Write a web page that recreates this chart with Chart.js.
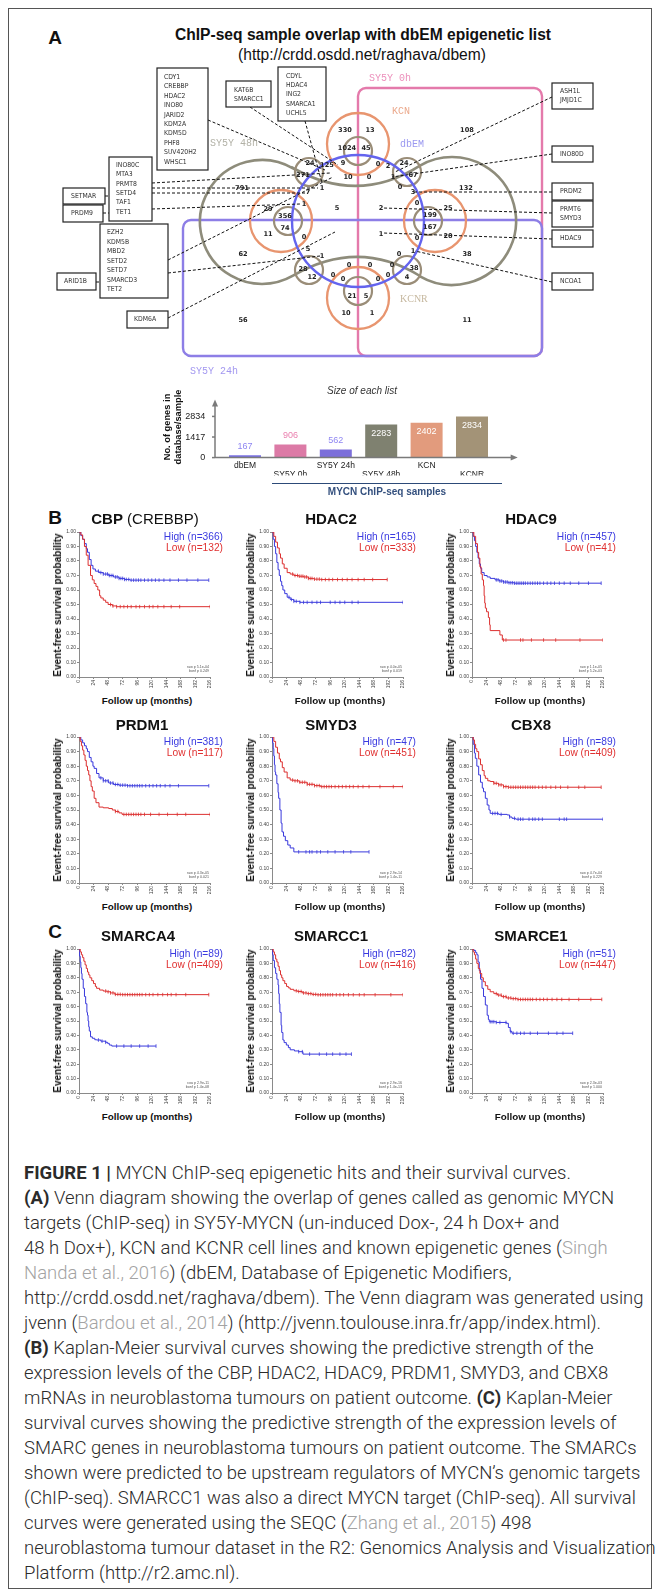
<!DOCTYPE html>
<html lang="en">
<head>
<meta charset="UTF-8">
<title>MYCN ChIP-seq epigenetic hits and their survival curves</title>
<script src="https://cdn.jsdelivr.net/npm/chart.js"></script>
<style>
  html, body { margin: 0; padding: 0; background: #fff; }
  body { position: relative; width: 659px; height: 1595px; overflow: hidden;
         font-family: "Liberation Sans", Arial, sans-serif; color: #111; }
  .frame { position: absolute; left: 8px; top: 8px; width: 644px; height: 1581px;
           border: 1.5px solid #555; box-sizing: border-box; }
  .t { position: absolute; white-space: nowrap; line-height: 1; }
  canvas { position: absolute; }
  .cap { position: absolute; left: 24px; white-space: nowrap; line-height: 1;
         font-family: Roboto, "Open Sans", sans-serif; font-weight: 300; color: #2b2b2b; }
  .cap b { font-weight: 700; }
  .ref { color: #a3a3a3; }
</style>
</head>
<body>
<div class="frame"></div>
<script>
// ---------- data ----------
const barLabels = ['dbEM', 'SY5Y 0h', 'SY5Y 24h', 'SY5Y 48h', 'KCN', 'KCNR'];
const barValues = [167, 906, 562, 2283, 2402, 2834];
const barTicks = [0, 1417, 2834];

const vennSetNames = ['SY5Y 0h', 'SY5Y 24h', 'SY5Y 48h', 'KCN', 'dbEM', 'KCNR'];
const vennCounts = [330, 13, 1024, 45, 108, 24, 125, 9, 10, 0, 0, 2, 24, 1, 67, 0, 3, 132, 0, 2,
  25, 199, 167, 1, 20, 0, 0, 1, 38, 0, 0, 0, 0, 0, 0, 0, 38, 4, 21, 5,
  10, 1, 11, 11, 0, 62, 5, 1, 28, 12, 56, 791, 271, 7, 1, 1, 29, 356, 74, 5];

const geneLists = [
  ['CDY1', 'CREBBP', 'HDAC2', 'INO80', 'JARID2', 'KDM2A', 'KDM5D', 'PHF8', 'SUV420H2', 'WHSC1'],
  ['KAT6B', 'SMARCC1'],
  ['CDYL', 'HDAC4', 'ING2', 'SMARCA1', 'UCHL5'],
  ['INO80C', 'MTA3', 'PRMT8', 'SETD4', 'TAF1', 'TET1'],
  ['SETMAR'],
  ['PRDM9'],
  ['EZH2', 'KDM5B', 'MBD2', 'SETD2', 'SETD7', 'SMARCD3', 'TET2'],
  ['ARID1B'],
  ['KDM6A'],
  ['ASH1L', 'JMJD1C'],
  ['INO80D'],
  ['PRDM2'],
  ['PRMT6', 'SMYD3'],
  ['HDAC9'],
  ['NCOA1']
];

const kmGenes = ['CBP', 'HDAC2', 'HDAC9', 'PRDM1', 'SMYD3', 'CBX8', 'SMARCA4', 'SMARCC1', 'SMARCE1'];
const kmAlias = ['CREBBP', '', '', '', '', '', '', '', ''];
const highN = [366, 165, 457, 381, 47, 89, 89, 82, 51];
const lowN = [132, 333, 41, 117, 451, 409, 409, 416, 447];
const rawP = ['5.1e-04', '4.0e-05', '1.1e-05', '4.3e-05', '2.9e-14', '4.7e-04', '2.9e-11', '2.9e-16', '2.3e-03'];
const bonfP = ['0.249', '0.019', '5.2e-03', '0.021', '1.4e-11', '0.229', '1.4e-08', '1.4e-13', '1.000'];
const monthTicks = [0, 24, 48, 72, 96, 120, 144, 168, 192, 216];
const probTicks = [0, 0.1, 0.2, 0.3, 0.4, 0.5, 0.6, 0.7, 0.8, 0.9, 1.0];

// survival curves: [month, probability]
const cbpHigh = [[0,1],[3,0.975],[6,0.95],[9,0.92],[12,0.885],[14,0.86],[17,0.81],[20,0.77],[23,0.745],[27,0.73],[33,0.72],[40,0.71],[49,0.70],[57,0.69],[66,0.68],[75,0.673],[84,0.668],[214,0.668]];
const cbpLow = [[0,1],[3,0.98],[6,0.95],[9,0.9],[12,0.84],[15,0.77],[19,0.70],[22,0.67],[25,0.645],[28,0.625],[31,0.6],[34,0.56],[36,0.545],[40,0.53],[44,0.515],[48,0.5],[55,0.49],[62,0.485],[216,0.485]];
const hdac2High = [[0,1],[2,0.95],[4,0.9],[6,0.85],[8,0.79],[10,0.74],[12,0.70],[14,0.66],[16,0.63],[18,0.60],[21,0.575],[25,0.55],[30,0.535],[36,0.522],[46,0.515],[216,0.515]];
const hdac2Low = [[0,1],[3,0.97],[6,0.93],[9,0.89],[12,0.85],[14,0.82],[17,0.78],[20,0.75],[25,0.72],[30,0.71],[36,0.70],[44,0.695],[52,0.69],[60,0.68],[69,0.675],[80,0.672],[190,0.672]];
const hdac9High = [[0,1],[2,0.97],[4,0.94],[6,0.9],[8,0.86],[10,0.82],[12,0.78],[14,0.75],[16,0.72],[20,0.70],[25,0.69],[30,0.68],[38,0.67],[45,0.662],[52,0.655],[60,0.65],[70,0.647],[213,0.647]];
const hdac9Low = [[0,1],[3,0.97],[6,0.92],[9,0.86],[11,0.82],[13,0.76],[15,0.71],[17,0.67],[19,0.63],[20,0.56],[21,0.51],[22,0.475],[24,0.45],[27,0.41],[29,0.36],[30,0.32],[46,0.29],[50,0.255],[216,0.255]];
const prdm1High = [[0,1],[3,0.98],[6,0.96],[9,0.94],[12,0.92],[14,0.90],[17,0.86],[20,0.83],[23,0.80],[25,0.785],[29,0.75],[33,0.72],[40,0.70],[49,0.685],[57,0.675],[66,0.67],[80,0.666],[214,0.666]];
const prdm1Low = [[0,1],[2,0.97],[4,0.94],[6,0.91],[8,0.877],[10,0.84],[12,0.8],[14,0.77],[16,0.74],[18,0.70],[20,0.66],[22,0.63],[25,0.58],[28,0.55],[33,0.52],[40,0.515],[49,0.51],[55,0.5],[60,0.49],[66,0.48],[71,0.47],[216,0.47]];
const smyd3High = [[0,1],[1,0.96],[2,0.92],[3,0.87],[4,0.81],[5,0.76],[6,0.74],[8,0.68],[10,0.62],[11,0.58],[13,0.5],[15,0.41],[16.5,0.35],[19,0.32],[22,0.29],[26,0.26],[30,0.24],[36,0.213],[160,0.213]];
const smyd3Low = [[0,1],[3,0.97],[6,0.93],[9,0.89],[12,0.85],[14,0.83],[17,0.79],[20,0.76],[25,0.72],[30,0.705],[36,0.70],[45,0.69],[58,0.676],[70,0.667],[80,0.66],[216,0.66]];
const cbx8High = [[0,1],[2,0.95],[4,0.89],[5.5,0.854],[8,0.80],[11,0.74],[14,0.69],[17,0.65],[19,0.625],[22,0.58],[25,0.534],[28,0.5],[30,0.477],[44,0.47],[58,0.466],[62,0.452],[66,0.443],[72,0.437],[216,0.437]];
const cbx8Low = [[0,1],[2,0.98],[4,0.95],[6,0.92],[8,0.90],[11,0.85],[14,0.81],[17,0.77],[20,0.735],[22,0.717],[26,0.70],[30,0.695],[36,0.683],[44,0.672],[52,0.66],[60,0.656],[213,0.656]];
const smarca4High = [[0,1],[1,0.95],[2,0.91],[3,0.87],[4,0.83],[5,0.79],[7,0.727],[9,0.67],[11,0.62],[13,0.56],[14,0.54],[15,0.5],[16,0.46],[17,0.43],[19,0.39],[22,0.38],[26,0.37],[29,0.368],[36,0.36],[44,0.352],[47,0.345],[50,0.333],[54,0.326],[127,0.326]];
const smarca4Low = [[0,1],[2,0.98],[4,0.96],[6,0.94],[8,0.915],[10,0.89],[12,0.865],[14,0.84],[16,0.82],[18,0.80],[21,0.78],[24,0.76],[27,0.74],[29,0.727],[34,0.715],[40,0.708],[46,0.703],[52,0.695],[59,0.685],[70,0.683],[214,0.683]];
const smarcc1High = [[0,1],[1,0.96],[2,0.92],[4,0.87],[6,0.83],[8,0.79],[10,0.75],[11,0.69],[12,0.62],[13,0.56],[15,0.47],[16,0.42],[18,0.368],[20,0.35],[23.6,0.333],[27,0.315],[30,0.30],[37,0.292],[44,0.287],[51,0.27],[131,0.27]];
const smarcc1Low = [[0,1],[2,0.98],[4,0.96],[6,0.93],[8,0.91],[10,0.88],[12,0.85],[14,0.82],[16,0.8],[18,0.78],[21,0.76],[24,0.74],[27,0.73],[30,0.72],[36,0.71],[42,0.705],[50,0.695],[58,0.69],[66,0.685],[74,0.682],[216,0.682]];
const smarce1High = [[0,1],[3,0.99],[6,0.975],[8,0.96],[10,0.91],[12,0.85],[14,0.79],[16.5,0.727],[19,0.67],[22,0.611],[25,0.54],[27,0.51],[28.5,0.495],[40,0.49],[57,0.484],[60,0.455],[63,0.426],[66,0.415],[166,0.415]];
const smarce1Low = [[0,1],[2,0.98],[4,0.96],[6,0.93],[8,0.9],[10.4,0.865],[13,0.83],[16,0.8],[18.7,0.773],[22,0.745],[26,0.72],[30,0.703],[36,0.69],[42,0.68],[49,0.669],[57,0.66],[65,0.655],[75,0.65],[214,0.65]];

// censored cases (months)
const cbpHighCens = [32,36,40,44,47,50,53,56,60,63,66,69,72,75,78,82,86,90,94,98,102,108,114,120,126,132,140,150,164,178,196,214];
const cbpLowCens = [52,56,62,68,74,80,86,94,100,108,116,122,130,140,152,166,216];
const hdac2HighCens = [28,32,36,40,46,52,58,66,74,80,96,104,112,120,132,142,216];
const hdac2LowCens = [34,38,42,45,48,51,54,57,60,63,66,70,74,78,82,88,94,100,108,116,124,132,142,152,166,190];
const hdac9HighCens = [40,43,46,49,52,55,58,61,64,67,70,73,76,79,82,85,88,92,96,100,104,108,112,118,124,130,136,144,152,162,176,192,213];
const hdac9LowCens = [52,56,80,84,98,118,138,178,216];
const prdm1HighCens = [36,40,44,48,52,56,60,64,68,72,76,80,84,88,92,96,100,104,110,116,122,128,134,142,150,164,214];
const prdm1LowCens = [60,64,74,78,82,86,90,94,98,102,108,118,132,146,162,176,216];
const smyd3HighCens = [44,56,62,66,74,80,92,104,118,130,160];
const smyd3LowCens = [34,38,42,46,50,54,58,62,66,70,74,78,82,86,90,94,98,104,110,116,122,128,134,142,150,160,178,200,216];
const cbx8HighCens = [34,38,42,48,62,70,76,80,84,94,100,104,110,116,144,152,156,216];
const cbx8LowCens = [36,40,44,48,52,56,60,64,68,72,76,80,84,88,92,96,100,104,110,116,122,130,138,146,158,176,186,213];
const smarca4HighCens = [32,38,44,62,74,86,100,114,127];
const smarca4LowCens = [44,48,52,56,60,64,68,72,76,80,84,88,92,96,100,104,110,116,122,130,138,146,152,160,176,214];
const smarcc1HighCens = [44,50,62,78,90,100,112,122,131];
const smarcc1LowCens = [40,44,48,52,56,60,64,68,72,76,80,84,88,92,96,100,106,112,118,126,134,144,152,170,196,216];
const smarce1HighCens = [30,33,36,40,46,56,64,68,74,80,86,96,108,126,140,150,166];
const smarce1LowCens = [40,44,48,52,56,60,64,68,72,76,80,84,88,92,96,100,106,112,118,124,132,140,148,160,176,196,214];

const highCurves = [cbpHigh, hdac2High, hdac9High, prdm1High, smyd3High, cbx8High, smarca4High, smarcc1High, smarce1High];
const lowCurves = [cbpLow, hdac2Low, hdac9Low, prdm1Low, smyd3Low, cbx8Low, smarca4Low, smarcc1Low, smarce1Low];
const highCens = [cbpHighCens, hdac2HighCens, hdac9HighCens, prdm1HighCens, smyd3HighCens, cbx8HighCens, smarca4HighCens, smarcc1HighCens, smarce1HighCens];
const lowCens = [cbpLowCens, hdac2LowCens, hdac9LowCens, prdm1LowCens, smyd3LowCens, cbx8LowCens, smarca4LowCens, smarcc1LowCens, smarce1LowCens];

// ---------- layout (page pixels) ----------
const vennCountPos = [[345,130],[370,130],[347,148],[366,148],[467,130],[310,163],[327,165],[343,163],[348,177],[369,177],
  [378,164],[388,166],[404,163],[393,177],[413,175],[400,187],[413,192],[466,188],[417,203],[381,208],
  [448,208],[430,215],[430,227],[381,234],[448,236],[417,238],[399,254],[413,251],[467,254],[349,265],
  [370,265],[392,265],[333,275],[343,279],[378,279],[388,275],[414,268],[407,277],[352,296],[366,296],
  [346,313],[372,313],[467,320],[268,234],[304,237],[243,254],[308,249],[322,256],[303,269],[312,277],
  [243,320],[242,188],[303,175],[308,192],[322,188],[304,204],[268,209],[285,216],[285,228],[337,208]];
// box: x0, y0, x1, y1, text x, first line y, line step
const geneBoxPos = [
  [157,68,208,170,164,77,9.45], [226,81,271,107,234,90,9.4], [278,67,326,121,286,76,9.3],
  [109,157,152,221,116,165,9.4], [63,188,105,204,71,196,0], [63,205,103,222,71,213.5,0],
  [100,224,168,298,107,232.7,9.43], [57,273,96,290,64,281.5,0], [127,311,168,328,134,319.5,0],
  [552,83,593,109,560,91,9.3], [552,146,593,162,560,154,0], [552,183,593,200,560,191.5,0],
  [552,201,593,227,560,209,9.6], [552,230,593,247,560,238.5,0], [552,273,593,290,560,281.5,0]];
const leaderLines = [
  [208,120,325,170], [250,107,338,165], [305,121,322,183],
  [152,183,330,173], [152,188,318,188], [152,193,307,193], [152,209,300,204],
  [105,196,109,196], [103,213,109,213],
  [168,260,333,177], [168,273,320,256], [96,282,100,282], [168,318,335,232],
  [552,97,395,172], [552,154,392,177], [552,192,413,192], [552,213,383,208],
  [552,239,383,233], [552,282,415,251]];
const vennLabelPos = [[369,78,'#ec8fbb','mono'], [190,371,'#a398f0','mono'], [210,143,'#b2b1a6','mono'],
  [392,111,'#eba98c','mono'], [400,144,'#9a98f0','mono'], [400,299,'#c6b89f','serif']];
const barColors = ['#7a70e4', '#dc7aa6', '#7c6fda', '#7f8170', '#e29b7d', '#a39377'];
const barValueColors = ['#8f86f2', '#ea7fae', '#8f86f2', '#fff', '#fff', '#fff'];

const kmCols = [79, 272, 472];
const kmRows = [{top: 532, bottom: 677, title: 518}, {top: 737, bottom: 883, title: 724}, {top: 949, bottom: 1093, title: 935}];
const kmTitleX = [[145, 331, 531], [142, 331, 531], [138, 331, 531]];
const kmWidth = 131;
const BLUE = '#3838dc', RED = '#dc2f2f';

Chart.defaults.font.family = '"Liberation Sans", Arial, sans-serif';
Chart.defaults.color = '#333';

function put(html, x, y, css, align, rot) {
  const d = document.createElement('div');
  d.className = 't';
  d.innerHTML = html;
  d.style.cssText += css;
  d.style.left = x + 'px';
  d.style.top = y + 'px';
  const tx = align === 'l' ? '0' : align === 'r' ? '-100%' : '-50%';
  d.style.transform = 'translate(' + tx + ',-50%)' + (rot ? ' rotate(' + rot + 'deg)' : '');
  document.body.appendChild(d);
  return d;
}

function addCanvas(x, y, w, h) {
  const cv = document.createElement('canvas');
  cv.width = w; cv.height = h;
  cv.style.left = x + 'px'; cv.style.top = y + 'px';
  cv.style.width = w + 'px'; cv.style.height = h + 'px';
  document.body.appendChild(cv);
  return cv;
}

// ---------- panel A: titles ----------
put('A', 55, 37, 'font-size:19px;font-weight:bold;');
put('ChIP-seq sample overlap with dbEM epigenetic list', 363, 35, 'font-size:15.6px;font-weight:bold;');
put('(http://crdd.osdd.net/raghava/dbem)', 362, 55, 'font-size:15.6px;');

// ---------- panel A: Venn diagram ----------
function rrect(ctx, x, y, w, h, r) {
  ctx.beginPath();
  ctx.moveTo(x + r, y);
  ctx.lineTo(x + w - r, y); ctx.arcTo(x + w, y, x + w, y + r, r);
  ctx.lineTo(x + w, y + h - r); ctx.arcTo(x + w, y + h, x + w - r, y + h, r);
  ctx.lineTo(x + r, y + h); ctx.arcTo(x, y + h, x, y + h - r, r);
  ctx.lineTo(x, y + r); ctx.arcTo(x, y, x + r, y, r);
  ctx.closePath();
}

const vennShapes = {
  id: 'vennShapes',
  beforeDatasetsDraw(chart) {
    const ctx = chart.ctx, sx = chart.scales.x, sy = chart.scales.y;
    const X = v => sx.getPixelForValue(v), Y = v => sy.getPixelForValue(v);
    const L = r => sx.getPixelForValue(r) - sx.getPixelForValue(0);
    ctx.save();
    ctx.lineWidth = 2.4;
    // SY5Y 0h (right half) and SY5Y 24h (bottom half)
    ctx.strokeStyle = '#e47aab';
    rrect(ctx, X(358), Y(88), L(184), L(268), 8); ctx.stroke();
    ctx.strokeStyle = '#8d7ee6';
    rrect(ctx, X(183), Y(220), L(359), L(136), 8); ctx.stroke();
    // SY5Y 48h two-lobed curve
    ctx.strokeStyle = '#8e8c7b';
    ctx.lineWidth = 2.6;
    ctx.beginPath();
    ctx.arc(X(262), Y(222), L(62), -Math.PI / 3, Math.PI / 3, true);
    ctx.quadraticCurveTo(X(358), Y(238), X(420), Y(276));
    ctx.arc(X(452), Y(221), L(64), 2 * Math.PI / 3, -2 * Math.PI / 3, true);
    ctx.quadraticCurveTo(X(358), Y(205), X(293), Y(168));
    ctx.closePath();
    ctx.stroke();
    // KCN lobes
    ctx.strokeStyle = '#e8956f';
    ctx.lineWidth = 2.3;
    [[358,144],[435,221],[358,298],[281,221]].forEach(c => {
      ctx.beginPath(); ctx.arc(X(c[0]), Y(c[1]), L(31), 0, 2 * Math.PI); ctx.stroke();
    });
    // KCNR small lobes
    ctx.strokeStyle = '#9a8d78';
    ctx.lineWidth = 2.2;
    [[358,151],[407,172],[428,221],[407,270],[358,291],[309,270],[288,221],[309,172]].forEach(c => {
      ctx.beginPath(); ctx.arc(X(c[0]), Y(c[1]), L(14), 0, 2 * Math.PI); ctx.stroke();
    });
    // dbEM circle
    ctx.strokeStyle = '#6464ee';
    ctx.lineWidth = 2.4;
    ctx.beginPath(); ctx.arc(X(358), Y(221), L(66), 0, 2 * Math.PI); ctx.stroke();
    ctx.restore();
  },
  afterDatasetsDraw(chart) {
    const ctx = chart.ctx, sx = chart.scales.x, sy = chart.scales.y;
    const X = v => sx.getPixelForValue(v), Y = v => sy.getPixelForValue(v);
    ctx.save();
    // leader lines
    ctx.strokeStyle = '#111';
    ctx.lineWidth = 1;
    ctx.setLineDash([3, 2]);
    leaderLines.forEach(l => {
      ctx.beginPath(); ctx.moveTo(X(l[0]), Y(l[1])); ctx.lineTo(X(l[2]), Y(l[3])); ctx.stroke();
    });
    ctx.setLineDash([]);
    // gene boxes
    ctx.font = '6.8px "DejaVu Sans Condensed", "Liberation Sans", sans-serif';
    ctx.textBaseline = 'middle';
    ctx.textAlign = 'left';
    geneBoxPos.forEach((b, i) => {
      ctx.fillStyle = '#fff';
      ctx.fillRect(X(b[0]), Y(b[1]), X(b[2]) - X(b[0]), Y(b[3]) - Y(b[1]));
      ctx.strokeStyle = '#222';
      ctx.lineWidth = 1.2;
      ctx.strokeRect(X(b[0]), Y(b[1]), X(b[2]) - X(b[0]), Y(b[3]) - Y(b[1]));
      ctx.fillStyle = '#333';
      geneLists[i].forEach((g, k) => ctx.fillText(g, X(b[4]), Y(b[5] + k * b[6])));
    });
    // region counts (dataset points)
    const pts = chart.getDatasetMeta(0).data;
    ctx.font = 'bold 6.6px "DejaVu Sans", sans-serif';
    ctx.textAlign = 'center';
    ctx.fillStyle = '#222';
    pts.forEach((p, i) => ctx.fillText(String(vennCounts[i]), p.x, p.y));
    // set names
    ctx.textAlign = 'left';
    vennSetNames.forEach((n, i) => {
      const lp = vennLabelPos[i];
      ctx.font = lp[3] === 'mono' ? '10px "Liberation Mono", monospace' : '10px "Liberation Serif", serif';
      ctx.fillStyle = lp[2];
      ctx.fillText(n, X(lp[0]), Y(lp[1]));
    });
    ctx.restore();
  }
};

const vennCanvas = addCanvas(0, 60, 659, 330);
new Chart(vennCanvas, {
  type: 'scatter',
  data: {
    datasets: [{
      data: vennCounts.map((v, i) => ({x: vennCountPos[i][0], y: vennCountPos[i][1]})),
      pointRadius: 0
    }]
  },
  options: {
    responsive: false, animation: false, devicePixelRatio: 1,
    layout: {padding: 0},
    plugins: {legend: {display: false}, tooltip: {enabled: false}},
    scales: {
      x: {type: 'linear', min: 0, max: 659, display: false},
      y: {type: 'linear', min: 60, max: 390, reverse: true, display: false}
    }
  },
  plugins: [vennShapes]
});

// ---------- panel A: bar chart ----------
const barDeco = {
  id: 'barDeco',
  afterDatasetsDraw(chart) {
    const ctx = chart.ctx, a = chart.chartArea, ys = chart.scales.y;
    const ax = a.left - 7.3, y0 = ys.getPixelForValue(0);
    ctx.save();
    ctx.strokeStyle = '#7a7a7a'; ctx.fillStyle = '#7a7a7a'; ctx.lineWidth = 1.5;
    ctx.beginPath(); ctx.moveTo(ax, y0); ctx.lineTo(ax, a.top + 2); ctx.stroke();
    ctx.beginPath(); ctx.moveTo(ax, a.top - 3); ctx.lineTo(ax - 3, a.top + 4); ctx.lineTo(ax + 3, a.top + 4); ctx.fill();
    ctx.beginPath(); ctx.moveTo(ax, y0); ctx.lineTo(a.right + 19, y0); ctx.stroke();
    ctx.beginPath(); ctx.moveTo(a.right + 23, y0); ctx.lineTo(a.right + 16, y0 - 3); ctx.lineTo(a.right + 16, y0 + 3); ctx.fill();
    barTicks.forEach(t => {
      const ty = ys.getPixelForValue(t);
      ctx.beginPath(); ctx.moveTo(ax - 3, ty); ctx.lineTo(ax, ty); ctx.stroke();
    });
    ctx.font = '9px "Liberation Sans", Arial, sans-serif';
    ctx.textAlign = 'center'; ctx.textBaseline = 'middle';
    chart.getDatasetMeta(0).data.forEach((bar, i) => {
      ctx.fillStyle = barValueColors[i];
      const inside = i >= 3;
      ctx.fillText(String(barValues[i]), bar.x, inside ? bar.y + 9 : bar.y - 9);
    });
    ctx.restore();
  }
};

const barCanvas = addCanvas(150, 380, 380, 100);
new Chart(barCanvas, {
  type: 'bar',
  data: {
    labels: barLabels.map((l, i) => i % 2 === 0 ? [l] : ['', l]),
    datasets: [{data: barValues, backgroundColor: barColors, borderWidth: 0,
                barPercentage: 0.705, categoryPercentage: 1}]
  },
  options: {
    responsive: false, animation: false, devicePixelRatio: 1,
    layout: {padding: {left: 0, right: 35.3, top: 15, bottom: 0}},
    plugins: {legend: {display: false}, tooltip: {enabled: false}},
    scales: {
      x: {
        grid: {display: false, drawTicks: false}, border: {display: false},
        ticks: {font: {size: 8.5, lineHeight: 1}, color: '#222', padding: 4, maxRotation: 0, autoSkip: false},
        afterFit: s => { s.height = 18; }
      },
      y: {
        min: 0, max: 3800,
        grid: {display: false, drawTicks: false}, border: {display: false},
        afterBuildTicks: s => { s.ticks = barTicks.map(v => ({value: v})); },
        ticks: {font: {size: 9}, color: '#222', padding: 17, callback: v => String(v)},
        afterFit: s => { s.width = 72.3; }
      }
    }
  },
  plugins: [barDeco]
});

put('Size of each list', 362, 391, 'font-size:10px;font-style:italic;color:#333;');
put('No. of genes in', 168, 427, 'font-size:9.3px;font-weight:bold;', 'c', -90);
put('database/sample', 179, 427, 'font-size:9.3px;font-weight:bold;', 'c', -90);
const rule = document.createElement('div');
rule.style.cssText = 'position:absolute;left:272px;top:483px;width:230px;height:0;border-top:1.5px solid #2c4a78;';
document.body.appendChild(rule);
put('MYCN ChIP-seq samples', 387, 492, 'font-size:10px;font-weight:bold;color:#34507e;');

// ---------- panels B and C: Kaplan-Meier curves ----------
put('B', 55, 517, 'font-size:19px;font-weight:bold;');
put('C', 55, 931, 'font-size:19px;font-weight:bold;');

function stepAt(curve, t) {
  let v = curve[0][1];
  curve.forEach(p => { if (p[0] <= t) v = p[1]; });
  return v;
}

function drawKM(i) {
  const col = i % 3, row = Math.floor(i / 3);
  const ox = kmCols[col], top = kmRows[row].top, bottom = kmRows[row].bottom;
  const padL = 30, padR = 8, padT = 6, padB = 16;
  const w = padL + kmWidth + padR, h = padT + (bottom - top) + padB;
  const cv = addCanvas(ox - padL, top - padT, w, h);
  const line = (c, color) => ({
    data: c.map(p => ({x: p[0], y: p[1]})), borderColor: color, borderWidth: 1,
    stepped: true, pointRadius: 0, fill: false
  });
  const marks = (cens, c, color) => ({
    data: cens.map(t => ({x: t, y: stepAt(c, t)})), showLine: false,
    pointStyle: 'line', pointRotation: 90, pointRadius: 1.8,
    pointBorderColor: color, pointBorderWidth: 0.8, borderColor: color
  });
  const axisGrid = {drawOnChartArea: false, drawTicks: true, tickLength: 2, color: '#8a8a8a'};
  new Chart(cv, {
    type: 'line',
    data: {datasets: [
      line(lowCurves[i], RED), line(highCurves[i], BLUE),
      marks(lowCens[i], lowCurves[i], RED), marks(highCens[i], highCurves[i], BLUE)
    ]},
    options: {
      responsive: false, animation: false, devicePixelRatio: 1,
      layout: {padding: {left: 0, right: padR, top: padT, bottom: 0}},
      plugins: {legend: {display: false}, tooltip: {enabled: false}},
      scales: {
        x: {
          type: 'linear', min: 0, max: 216,
          afterBuildTicks: s => { s.ticks = monthTicks.map(v => ({value: v})); },
          afterFit: s => { s.height = padB; },
          ticks: {font: {size: 5}, color: '#444', minRotation: 90, maxRotation: 90, padding: 1},
          grid: axisGrid, border: {color: '#8a8a8a'}
        },
        y: {
          type: 'linear', min: 0, max: 1,
          afterBuildTicks: s => { s.ticks = probTicks.map(v => ({value: v})); },
          afterFit: s => { s.width = padL; },
          ticks: {font: {size: 5}, color: '#444', padding: 1, callback: v => Number(v).toFixed(2)},
          grid: axisGrid, border: {color: '#8a8a8a'}
        }
      }
    }
  });

  const tx = kmTitleX[row][col];
  const title = '<b>' + kmGenes[i] + '</b>' + (kmAlias[i] ? ' (' + kmAlias[i] + ')' : '');
  put(title, tx, kmRows[row].title, 'font-size:15px;');
  const lx = ox + kmWidth + 13;
  put('High (n=' + highN[i] + ')', lx, top + 5, 'font-size:10.2px;color:#3a3ae0;', 'r');
  put('Low (n=' + lowN[i] + ')', lx, top + 16, 'font-size:10.2px;color:#e03030;', 'r');
  put('Event-free survival probability', ox - 21, (top + bottom) / 2, 'font-size:10px;font-weight:bold;', 'c', -90);
  put('Follow up (months)', ox + 68, bottom + 24, 'font-size:9.8px;font-weight:bold;');
  put('raw p ' + rawP[i], ox + kmWidth - 1, bottom - 9, 'font-size:3.6px;color:#555;', 'r');
  put('bonf p ' + bonfP[i], ox + kmWidth - 1, bottom - 5, 'font-size:3.6px;color:#555;', 'r');
}

kmGenes.forEach((g, i) => drawKM(i));

// ---------- caption ----------
const captionLines = [
  '<b>FIGURE 1 |</b> MYCN ChIP-seq epigenetic hits and their survival curves.',
  '<b>(A)</b> Venn diagram showing the overlap of genes called as genomic MYCN',
  'targets (ChIP-seq) in SY5Y-MYCN (un-induced Dox-, 24 h Dox+ and',
  '48 h Dox+), KCN and KCNR cell lines and known epigenetic genes (<span class="ref">Singh</span>',
  '<span class="ref">Nanda et al., 2016</span>) (dbEM, Database of Epigenetic Modifiers,',
  'http://crdd.osdd.net/raghava/dbem). The Venn diagram was generated using',
  'jvenn (<span class="ref">Bardou et al., 2014</span>) (http://jvenn.toulouse.inra.fr/app/index.html).',
  '<b>(B)</b> Kaplan-Meier survival curves showing the predictive strength of the',
  'expression levels of the CBP, HDAC2, HDAC9, PRDM1, SMYD3, and CBX8',
  'mRNAs in neuroblastoma tumours on patient outcome. <b>(C)</b> Kaplan-Meier',
  'survival curves showing the predictive strength of the expression levels of',
  'SMARC genes in neuroblastoma tumours on patient outcome. The SMARCs',
  'shown were predicted to be upstream regulators of MYCN\u2019s genomic targets',
  '(ChIP-seq). SMARCC1 was also a direct MYCN target (ChIP-seq). All survival',
  'curves were generated using the SEQC (<span class="ref">Zhang et al., 2015</span>) 498',
  'neuroblastoma tumour dataset in the R2: Genomics Analysis and Visualization',
  'Platform (http://r2.amc.nl).'
];
const capDivs = captionLines.map((html, i) => {
  const d = document.createElement('div');
  d.className = 'cap';
  d.innerHTML = html;
  d.style.fontSize = '16px';
  d.style.top = (1173 + i * 25) + 'px';
  d.style.transform = 'translateY(-50%)';
  document.body.appendChild(d);
  return d;
});
const fitW = capDivs[5].getBoundingClientRect().width;
const capSize = 16 * 620 / fitW;
capDivs.forEach(d => { d.style.fontSize = capSize + 'px'; });
</script>
</body>
</html>
